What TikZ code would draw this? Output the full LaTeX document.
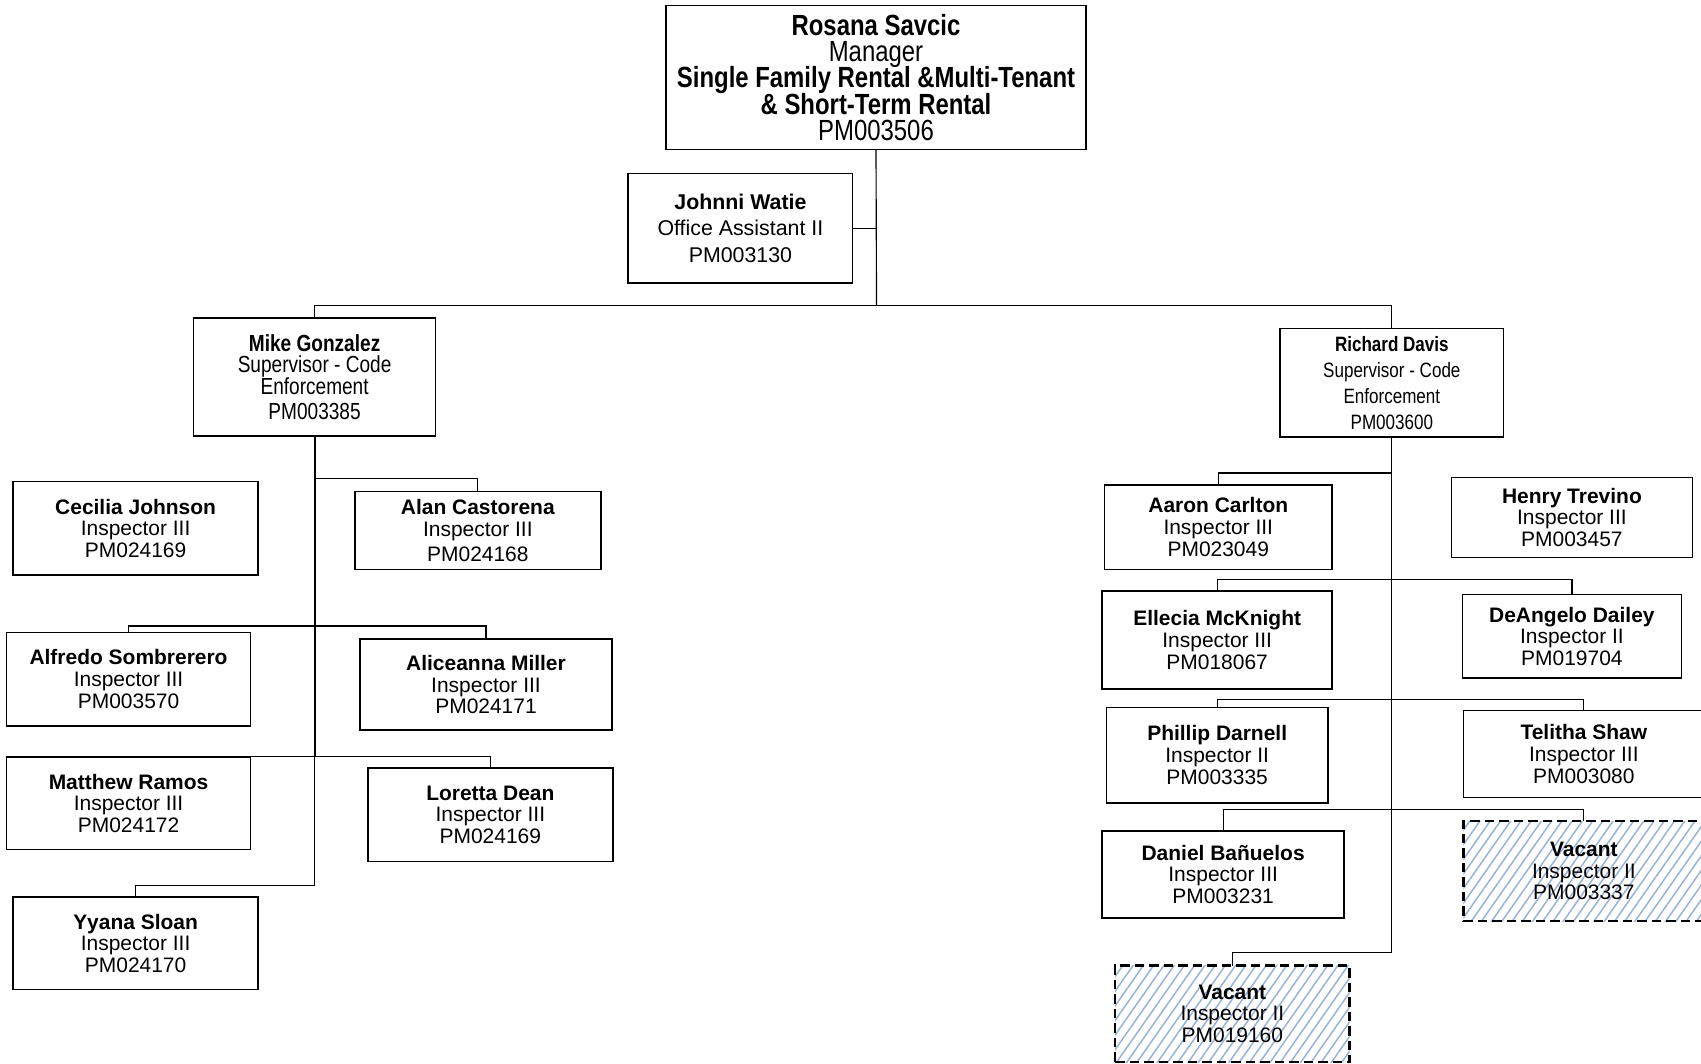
\documentclass[tikz,border=0pt]{standalone}
\usepackage{fontspec}
\setmainfont{Liberation Sans}
\newfontfamily\narrowfont[FakeStretch=0.82]{Liberation Sans}
\usetikzlibrary{patterns.meta}
\definecolor{hatchblue}{HTML}{9AB2D8}
\newcommand{\tightskip}{\lineskiplimit=-5pt\relax}

\begin{document}
\begin{tikzpicture}[x=0.02cm, y=-0.02cm,
    box/.style={draw, line width=0.8pt, inner sep=0pt, outer sep=0pt, align=center, font=\fontsize{11}{11.4}\selectfont\tightskip},
    vacant/.style={box, dash pattern=on 5pt off 2.6pt, line width=1.1pt, pattern={Lines[angle=55,distance=4.4pt,line width=0.8pt]}, pattern color=hatchblue},
    link/.style={line width=0.6pt}]
    \useasboundingbox (0,0) rectangle (1568,980);

    \node (RS) [box, minimum width=7.74cm, minimum height=2.66cm, font=\narrowfont\fontsize{15.3}{13.7}\selectfont\tightskip] at (807.5,71.5) {\textbf{Rosana Savcic}\\Manager\\\textbf{Single Family Rental \&Multi-Tenant}\\\textbf{\& Short-Term Rental}\\PM003506};
    \node (JW) [box, minimum width=4.14cm, minimum height=2.02cm, font=\fontsize{11.2}{13.7}\selectfont] at (682.5,210.5) {\textbf{Johnni Watie}\\Office Assistant II\\PM003130};

    \node (MG) [box, minimum width=4.46cm, minimum height=2.18cm, font=\narrowfont\fontsize{12.2}{11.4}\selectfont\tightskip] at (290,347.5) {\textbf{Mike Gonzalez}\\Supervisor - Code\\Enforcement\\[1.5pt]PM003385};
    \node (RD) [box, minimum width=4.12cm, minimum height=2cm, font=\narrowfont\fontsize{10.9}{13.7}\selectfont] at (1283,353) {\textbf{Richard Davis}\\Supervisor - Code\\Enforcement\\PM003600};

    \node (CJ) [box, minimum width=4.52cm, minimum height=1.72cm] at (125,487) {\textbf{Cecilia Johnson}\\Inspector III\\PM024169};
    \node (AC) [box, minimum width=4.54cm, minimum height=1.44cm] at (440.5,489) {\textbf{Alan Castorena}\\Inspector III\\[1.5pt]PM024168};
    \node (AS) [box, minimum width=4.5cm, minimum height=1.72cm] at (118.5,626) {\textbf{Alfredo Sombrerero}\\Inspector III\\PM003570};
    \node (AM) [box, minimum width=4.64cm, minimum height=1.68cm] at (448,631) {\textbf{Aliceanna Miller}\\Inspector III\\PM024171};
    \node (MR) [box, minimum width=4.5cm, minimum height=1.7cm] at (118.5,740.5) {\textbf{Matthew Ramos}\\Inspector III\\PM024172};
    \node (LD) [box, minimum width=4.52cm, minimum height=1.72cm] at (452,751) {\textbf{Loretta Dean}\\Inspector III\\PM024169};
    \node (YS) [box, minimum width=4.52cm, minimum height=1.7cm] at (125,869.5) {\textbf{Yyana Sloan}\\Inspector III\\PM024170};

    \node (AN) [box, minimum width=4.2cm, minimum height=1.56cm] at (1123,486) {\textbf{Aaron Carlton}\\Inspector III\\PM023049};
    \node (HT) [box, minimum width=4.44cm, minimum height=1.48cm] at (1449,477) {\textbf{Henry Trevino}\\Inspector III\\PM003457};
    \node (EM) [box, minimum width=4.24cm, minimum height=1.8cm] at (1122,590) {\textbf{Ellecia McKnight}\\Inspector III\\PM018067};
    \node (DD) [box, minimum width=4.04cm, minimum height=1.54cm] at (1449,586.5) {\textbf{DeAngelo Dailey}\\Inspector II\\PM019704};
    \node (PD) [box, minimum width=4.08cm, minimum height=1.76cm] at (1122,696) {\textbf{Phillip Darnell}\\Inspector II\\PM003335};
    \node (TS) [box, minimum width=4.44cm, minimum height=1.6cm] at (1460,695) {\textbf{Telitha Shaw}\\Inspector III\\PM003080};
    \node (DB) [box, minimum width=4.46cm, minimum height=1.6cm] at (1127.5,806) {\textbf{Daniel Bañuelos}\\Inspector III\\PM003231};
    \node (VA) [vacant, minimum width=4.44cm, minimum height=1.84cm] at (1460,803) {\textbf{Vacant}\\Inspector II\\PM003337};
    \node (VB) [vacant, minimum width=4.32cm, minimum height=1.78cm] at (1136,934.5) {\textbf{Vacant}\\Inspector II\\PM019160};

    \coordinate (T) at (808,282);
    \draw[link] (RS.south) -- (T);
    \draw[link] (JW.east) -- (JW.east -| RS.south);
    \draw[link] (MG.north) |- (T) -| (RD.north);

    \coordinate (L1) at (290,441);
    \coordinate (L2) at (290,577);
    \coordinate (L3) at (290,697);
    \coordinate (L4) at (290,816);
    \draw[link, line width=1.1pt] (MG.south) -- (L3);
    \draw[link] (L3) -- (L4) -| (YS.north);
    \draw[link] (L1) -| (AC.north);
    \draw[link] (AS.north) |- (L2) -| (AM.north);
    \draw[link] (MR.north) |- (L3) -| (LD.north);

    \coordinate (R1) at (1283,436);
    \coordinate (R2) at (1283,534);
    \coordinate (R3) at (1283,645);
    \coordinate (R4) at (1283,746);
    \coordinate (R5) at (1283,878);
    \draw[link] (RD.south) -- (R5) -| (VB.north);
    \draw[link] (R1) -| (AN.north);
    \draw[link] (EM.north) |- (R2) -| (DD.north);
    \draw[link] (PD.north) |- (R3) -| (TS.north);
    \draw[link] (DB.north) |- (R4) -| (VA.north);
\end{tikzpicture}
\end{document}
